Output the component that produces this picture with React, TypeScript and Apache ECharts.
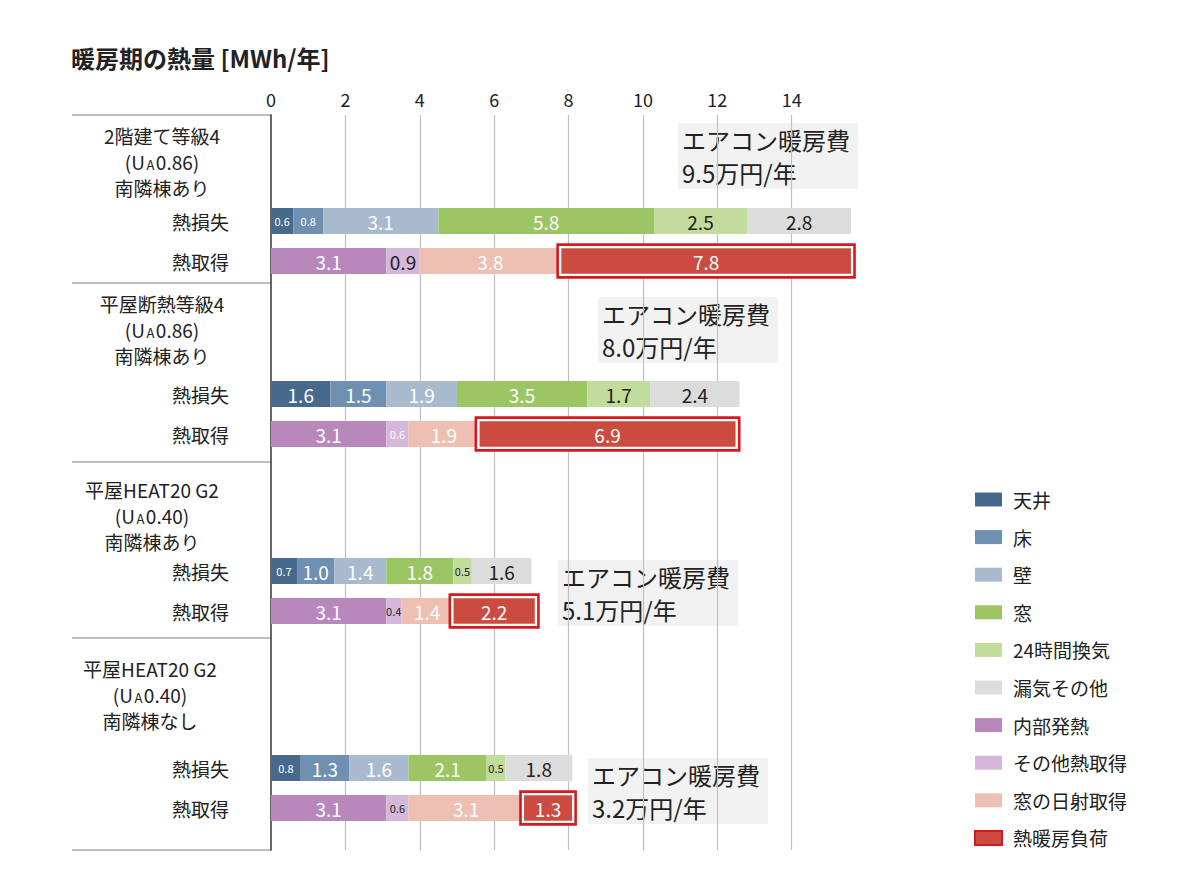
import React, { useEffect, useRef } from 'react';
import * as echarts from 'echarts';

// ---- data ----
const groupTitles = ['2階建て等級4', '平屋断熱等級4', '平屋HEAT20 G2', '平屋HEAT20 G2'];
const uaValues = ['0.86', '0.86', '0.40', '0.40'];
const neighborNotes = ['南隣棟あり', '南隣棟あり', '南隣棟あり', '南隣棟なし'];
const rowLabels = ['熱損失', '熱取得'];
const costValues = ['9.5', '8.0', '5.1', '3.2'];

const lossNames = ['天井', '床', '壁', '窓', '24時間換気', '漏気その他'];
const gainNames = ['内部発熱', 'その他熱取得', '窓の日射取得', '熱暖房負荷'];

const ceiling = [0.6, 1.6, 0.7, 0.8];
const floorLoss = [0.8, 1.5, 1.0, 1.3];
const wall = [3.1, 1.9, 1.4, 1.6];
const windowLoss = [5.8, 3.5, 1.8, 2.1];
const ventilation = [2.5, 1.7, 0.5, 0.5];
const leakage = [2.8, 2.4, 1.6, 1.8];

const internalGain = [3.1, 3.1, 3.1, 3.1];
const otherGain = [0.9, 0.6, 0.4, 0.6];
const solarGain = [3.8, 1.9, 1.4, 3.1];
const heatingLoad = [7.8, 6.9, 2.2, 1.3];

const axisMin = 0;
const axisMax = 16;
const axisInterval = 2;

// ---- styles / layout ----
const FONT = '"Noto Sans CJK JP", "Noto Sans", sans-serif';
const lossColors = ['#476a8c', '#7090b1', '#a9bacf', '#9cc564', '#c1dc9b', '#dcdcdc'];
const gainColors = ['#b888bc', '#d5b7d9', '#eebfb3', '#cc4b40'];
const lossLabelColors = [
  ['#fff', '#fff', '#fff', '#fff'],
  ['#fff', '#fff', '#fff', '#fff'],
  ['#fff', '#fff', '#fff', '#fff'],
  ['#fff', '#fff', '#fff', '#fff'],
  ['#222', '#222', '#222', '#222'],
  ['#222', '#222', '#222', '#222'],
];
const gainLabelColors = [
  ['#fff', '#fff', '#fff', '#fff'],
  ['#222', '#fff', '#222', '#222'],
  ['#fff', '#fff', '#fff', '#fff'],
  ['#fff', '#fff', '#fff', '#fff'],
];
const FRAME_RED = '#d7191c';
const GRID_LEFT = 271;
const GRID_RIGHT = 334;
const PLOT_TOP = 115;
const PLOT_BOTTOM = 850;
const groupTops = [201, 374, 551, 748];
const GROUP_H = 80;
const BAR_W = 26;
const separators = [115, 283, 462, 638, 850];
const headerCenters = [[162, 161], [162, 329], [152, 515], [150, 694]];
const HEADER_LINE = 26;
const notePos = [[678, 123], [598, 297], [558, 560], [588, 758]];

export default function App() {
  const ref = useRef<HTMLDivElement>(null);

  useEffect(() => {
    if (!ref.current) return;
    const chart = echarts.init(ref.current, undefined, { renderer: 'svg' });

    const lossSeriesValues = [ceiling, floorLoss, wall, windowLoss, ventilation, leakage];
    const gainSeriesValues = [internalGain, otherGain, solarGain, heatingLoad];

    const grids: any[] = [{ left: GRID_LEFT, right: GRID_RIGHT, top: PLOT_TOP, bottom: 879 - PLOT_BOTTOM }];
    const xAxes: any[] = [
      {
        type: 'value', gridIndex: 0, position: 'top', min: axisMin, max: axisMax, interval: axisInterval,
        axisLine: { show: false }, axisTick: { show: false },
        axisLabel: { fontSize: 18, color: '#222', margin: 7, fontFamily: FONT, showMaxLabel: false },
        splitLine: { show: true, showMinLine: false, showMaxLine: false, lineStyle: { color: '#c0c0c0', width: 1.2 } },
      },
    ];
    const yAxes: any[] = [
      {
        type: 'category', gridIndex: 0, data: [''],
        axisLine: { show: true, lineStyle: { color: '#333', width: 1.5 } },
        axisTick: { show: false }, axisLabel: { show: false }, splitLine: { show: false },
      },
    ];
    const series: any[] = [];

    const fmt = (p: any) => Number(p.value).toFixed(1);

    for (let g = 0; g < 4; g++) {
      grids.push({ left: GRID_LEFT, right: GRID_RIGHT, top: groupTops[g], height: GROUP_H });
      xAxes.push({ type: 'value', gridIndex: g + 1, min: axisMin, max: axisMax, interval: axisInterval, show: false });
      yAxes.push({
        type: 'category', gridIndex: g + 1, inverse: true, data: rowLabels,
        axisLine: { show: false }, axisTick: { show: false }, splitLine: { show: false },
        axisLabel: { fontSize: 19, color: '#222', margin: 42, fontFamily: FONT },
      });

      lossNames.forEach((name, k) => {
        const v = lossSeriesValues[k][g];
        series.push({
          type: 'bar', name, xAxisIndex: g + 1, yAxisIndex: g + 1, stack: 'group' + g, barWidth: BAR_W,
          itemStyle: { color: lossColors[k] },
          label: { show: true, position: 'inside', formatter: fmt, fontFamily: FONT },
          data: [
            { value: v, label: { color: lossLabelColors[k][g], fontSize: v <= 0.8 ? 11 : 19 } },
            '-',
          ],
        });
      });

      let start = 0;
      gainNames.forEach((name, k) => {
        const v = gainSeriesValues[k][g];
        if (k < gainNames.length - 1) start += v;
        series.push({
          type: 'bar', name, xAxisIndex: g + 1, yAxisIndex: g + 1, stack: 'group' + g, barWidth: BAR_W,
          itemStyle: { color: gainColors[k] },
          label: { show: true, position: 'inside', formatter: fmt, fontFamily: FONT },
          data: [
            '-',
            { value: v, label: { color: gainLabelColors[k][g], fontSize: v <= 0.8 ? 11 : 19 } },
          ],
        });
      });

      const loadValue = heatingLoad[g];
      series.push({
        type: 'custom', name: 'frame' + g, xAxisIndex: g + 1, yAxisIndex: g + 1, silent: true, z: 5,
        encode: { x: [0, 1], y: 2 },
        data: [[start, start + loadValue, 1]],
        renderItem: (_params: any, api: any) => {
          const a = api.coord([api.value(0), api.value(2)]);
          const b = api.coord([api.value(1), api.value(2)]);
          const h = BAR_W;
          return {
            type: 'group',
            children: [
              {
                type: 'rect',
                shape: { x: a[0] - 1, y: a[1] - h / 2 - 1, width: b[0] - a[0] + 2, height: h + 2 },
                style: { fill: 'none', stroke: '#fff', lineWidth: 2.4 },
              },
              {
                type: 'rect',
                shape: { x: a[0] - 3.4, y: a[1] - h / 2 - 3.4, width: b[0] - a[0] + 6.8, height: h + 6.8 },
                style: { fill: 'none', stroke: FRAME_RED, lineWidth: 2.6 },
              },
            ],
          };
        },
      });
    }

    const graphic: any[] = [
      {
        type: 'text', x: 71, y: 57,
        style: { text: '暖房期の熱量 [MWh/年]', font: `bold 24px ${FONT}`, fill: '#222', align: 'left', verticalAlign: 'middle' },
      },
    ];
    separators.forEach((y) => {
      graphic.push({
        type: 'line', shape: { x1: 72, y1: y, x2: GRID_LEFT, y2: y },
        style: { stroke: '#a8a8a8', lineWidth: 1.5 },
      });
    });
    const headerStyle = { fontSize: 19, fontFamily: FONT, fill: '#222', align: 'center', verticalAlign: 'middle' };
    for (let g = 0; g < 4; g++) {
      const [cx, cy] = headerCenters[g];
      graphic.push({
        type: 'text', x: cx, y: cy - HEADER_LINE,
        style: { ...headerStyle, text: groupTitles[g] },
      });
      graphic.push({
        type: 'text', x: cx, y: cy,
        style: {
          ...headerStyle,
          text: `(U{s|A}${uaValues[g]})`,
          rich: { s: { fontSize: 13, lineHeight: 17, verticalAlign: 'bottom', padding: [0, 1.5, 0, 1.5], fontFamily: FONT, fill: '#222' } },
        },
      });
      graphic.push({
        type: 'text', x: cx, y: cy + HEADER_LINE,
        style: { ...headerStyle, text: neighborNotes[g] },
      });
      graphic.push({
        type: 'text', x: notePos[g][0], y: notePos[g][1],
        style: {
          text: `エアコン暖房費\n${costValues[g]}万円/年`,
          fontSize: 24, fontFamily: FONT, lineHeight: 33, fill: '#222',
          backgroundColor: '#f2f2f2', padding: [0, 8, 0, 4], align: 'left', verticalAlign: 'top',
        },
      });
    }

    const legendData: any[] = [...lossNames, ...gainNames].map((n) =>
      n === '熱暖房負荷'
        ? { name: n, icon: 'rect', itemStyle: { borderColor: FRAME_RED, borderWidth: 2 } }
        : { name: n, icon: 'rect' }
    );

    chart.setOption({
      animation: false,
      textStyle: { fontFamily: FONT },
      grid: grids,
      xAxis: xAxes,
      yAxis: yAxes,
      legend: {
        orient: 'vertical', left: 969, top: 485, itemWidth: 27, itemHeight: 14, itemGap: 18.6,
        selectedMode: false,
        textStyle: { fontSize: 19, color: '#222', fontFamily: FONT, padding: [0, 0, 0, 6] },
        data: legendData,
      },
      graphic,
      series,
    });

    return () => chart.dispose();
  }, []);

  return <div ref={ref} style={{ position: 'fixed', left: 0, top: 0, width: 1200, height: 879, background: '#fff' }} />;
}
